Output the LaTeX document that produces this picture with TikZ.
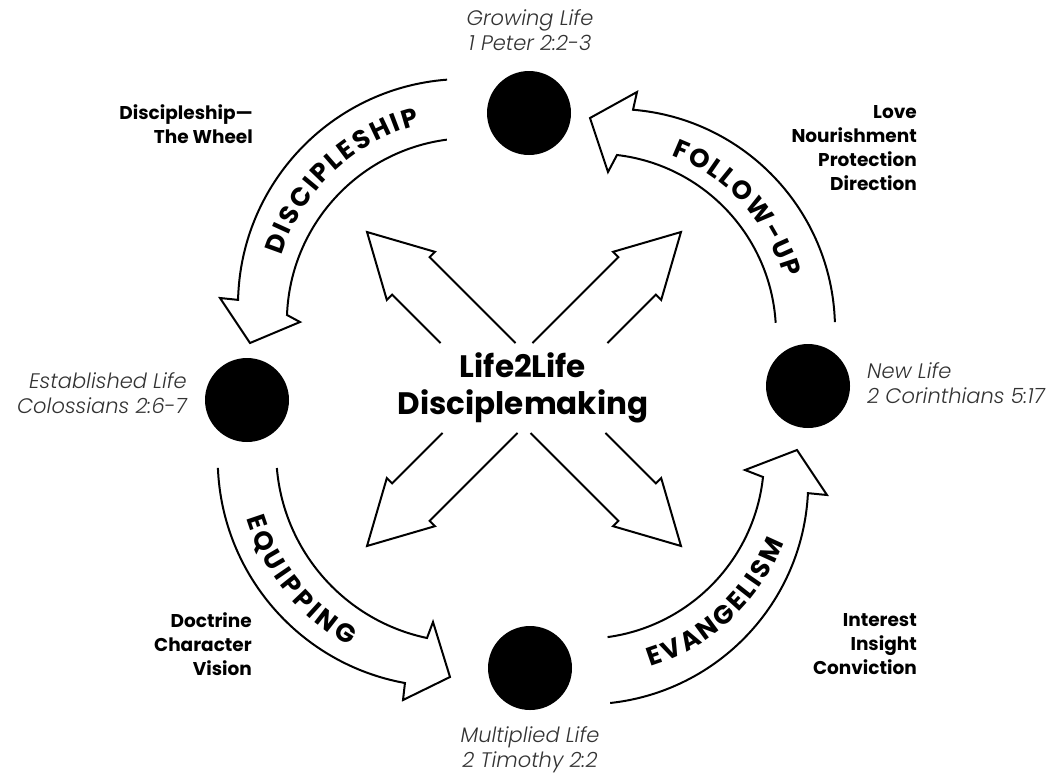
\documentclass[tikz,border=0pt]{standalone}
\usepackage{fontspec}
\setmainfont{Poppins}
\newfontfamily\lightit{Poppins Light Italic}
\newfontfamily\arcfont{Poppins Bold}
\usetikzlibrary{calc,decorations.text}
\tikzset{
  outl/.style={draw=black, line width=2pt, line join=miter},
  dot/.style={circle, fill=black, minimum size=84pt, inner sep=0pt},
  lifelbl/.style={font=\lightit\fontsize{21}{25}\selectfont, text=black!80, inner sep=0pt},
  notelbl/.style={font=\bfseries\fontsize{18.5}{24}\selectfont, align=right, anchor=east, inner sep=0pt},
  centrelbl/.style={font=\bfseries\fontsize{31}{37}\selectfont, align=center},
  curvetext/.style={decorate, decoration={text along path, text align=center, text={#1}}}
}
\begin{document}
\begin{tikzpicture}[x=1pt,y=1pt]
\useasboundingbox (0,0) rectangle (1048,-774);
\fill[white] (0,0) rectangle (1048,-774);

% four life stages
\node[dot] (grow) at (529,-113) {};
\node[dot] (est)  at (247,-400) {};
\node[dot] (new)  at (808,-386) {};
\node[dot] (mult) at (530,-668) {};

\node[lifelbl, align=center] (growl) at (530,-30) {Growing Life\\1 Peter 2:2-3};
\node[lifelbl, align=right, anchor=east] (estl) at (187,-393) {Established Life\\Colossians 2:6-7};
\node[lifelbl, align=left, anchor=west] (newl) at (867,-383) {New Life\\2 Corinthians 5:17};
\node[lifelbl, align=center] (multl) at (530,-750) {Multiplied Life\\2 Timothy 2:2};

% side notes
\node[notelbl] (wheel) at (253,-124) {Discipleship—\\The Wheel};
\node[notelbl] (fu) at (917,-148) {Love\\Nourishment\\Protection\\Direction};
\node[notelbl] (eq) at (252,-644) {Doctrine\\Character\\Vision};
\node[notelbl] (ev) at (917,-644) {Interest\\Insight\\Conviction};

% centre
\node[centrelbl] (centre) at (523,-388) {Life2Life\\Disciplemaking};

% curved arrows
% DISCIPLESHIP (top -> left)
\draw[outl] ($(464,-305)+(94.3:226pt)$) arc[start angle=94.3, end angle=178.7, radius=226pt]
  -- (220,-298) -- (250,-343) -- (300,-322) -- (287,-315)
  arc[start angle=177.8, end angle=97.5, radius=184pt];
% EQUIPPING (left -> bottom)
\draw[outl] ($(445.7,-458.7)+(182.3:228pt)$) arc[start angle=182.3, end angle=259.7, radius=228pt]
  -- (403,-700) -- (450,-677) -- (433,-622) -- (427,-638)
  arc[start angle=258.1, end angle=184.8, radius=190pt];
% EVANGELISM (bottom -> right)
\draw[outl] ($(586.2,-482.3)+(276.2:222pt)$) arc[start angle=276.2, end angle=357.2, radius=222pt]
  -- (827,-495) -- (797,-450) -- (745,-470) -- (763,-477)
  arc[start angle=353.9, end angle=277.8, radius=181pt];
% FOLLOW-UP (right -> top)
\draw[outl] ($(615,-329)+(1.8:220pt)$) arc[start angle=1.8, end angle=85.3, radius=220pt]
  -- (637,-92) -- (590,-118) -- (608,-172) -- (617,-155)
  arc[start angle=83.3, end angle=3.5, radius=180pt];

% curved labels
\begin{scope}
\arcfont\fontsize{26}{26}\selectfont
\path[curvetext={D{\kern2.5pt}I{\kern2.5pt}S{\kern2.5pt}C{\kern2.5pt}I{\kern2.5pt}P{\kern2.5pt}L{\kern2.5pt}E{\kern2.5pt}S{\kern2.5pt}H{\kern2.5pt}I{\kern2.5pt}P}]
  ($(467,-313)+(178:194pt)$) arc[start angle=178, end angle=89, radius=194pt];
\path[curvetext={E{\kern3.5pt}Q{\kern3.5pt}U{\kern3.5pt}I{\kern3.5pt}P{\kern3.5pt}P{\kern3.5pt}I{\kern3.5pt}N{\kern3.5pt}G}]
  ($(456,-455)+(176.8:219pt)$) arc[start angle=176.8, end angle=260.8, radius=219pt];
\path[curvetext={E{\kern2.5pt}V{\kern2.5pt}A{\kern2.5pt}N{\kern2.5pt}G{\kern2.5pt}E{\kern2.5pt}L{\kern2.5pt}I{\kern2.5pt}S{\kern2.5pt}M}]
  ($(589,-467)+(270:209pt)$) arc[start angle=270, end angle=356, radius=209pt];
\path[curvetext={F{\kern2pt}O{\kern2pt}L{\kern2pt}L{\kern2pt}O{\kern2pt}W{\kern2pt}-{\kern2pt}U{\kern2pt}P}]
  ($(605,-329)+(85.5:186pt)$) arc[start angle=85.5, end angle=-0.5, radius=186pt];
\end{scope}

% central block arrows
\begin{scope}[shift={(524,-389)}, rotate=135]
  \draw[outl] (91.5,26.5) -- (160,26.5) -- (160,34) -- (222,0) -- (160,-34) -- (160,-26.5) -- (38.5,-26.5);
\end{scope}
\begin{scope}[shift={(524,-389)}, rotate=45]
  \draw[outl] (38.5,26.5) -- (160,26.5) -- (160,34) -- (222,0) -- (160,-34) -- (160,-26.5) -- (91.5,-26.5);
\end{scope}
\begin{scope}[shift={(524,-389)}, rotate=225]
  \draw[outl] (35.7,26.5) -- (160,26.5) -- (160,34) -- (222,0) -- (160,-34) -- (160,-26.5) -- (88.7,-26.5);
\end{scope}
\begin{scope}[shift={(524,-389)}, rotate=315]
  \draw[outl] (88.7,26.5) -- (160,26.5) -- (160,34) -- (222,0) -- (160,-34) -- (160,-26.5) -- (35.7,-26.5);
\end{scope}
\end{tikzpicture}
\end{document}
